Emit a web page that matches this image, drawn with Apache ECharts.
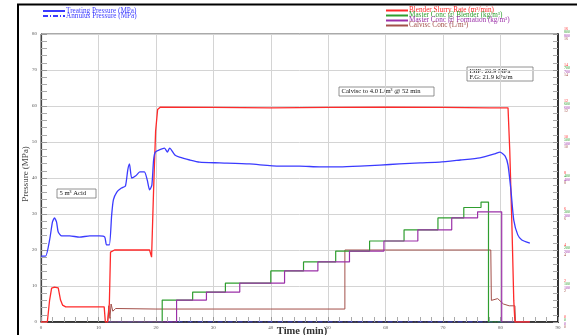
<!DOCTYPE html>
<html>
<head>
<meta charset="utf-8">
<script src="https://cdn.jsdelivr.net/npm/echarts@6/dist/echarts.min.js"></script>
<style>
  html, body { margin: 0; padding: 0; background: #fff; }
  #chart { width: 577px; height: 335px; }
</style>
</head>
<body>
<div id="chart"></div>
<script>
// Treating pressure (MPa) vs time (min)
const treatingT = [0, 0.8, 1.5, 2.0, 2.35, 2.7, 3.0, 3.6, 5, 6.7, 8.5, 10.2, 11.1, 11.4, 11.9, 12.3, 12.6, 13.2, 14.0, 14.7, 15.1, 15.4, 15.8, 16.5, 17.2, 18.0, 18.5, 18.9, 19.3, 19.6, 19.9, 20.6, 21.5, 22.0, 22.4, 23.3, 24.1, 25.9, 27.6, 31.1, 36.3, 41.5, 45, 48.5, 52, 55.5, 59, 62.4, 66, 69.4, 73, 76.4, 79, 79.9, 80.8, 81.3, 81.8, 82.3, 83.0, 83.7, 85.1];
const treatingP = [18.3, 18.3, 22.8, 27.8, 28.9, 27.8, 25.0, 23.9, 23.9, 23.6, 23.9, 23.9, 23.6, 21.4, 21.4, 29.7, 33.9, 36.1, 37.2, 37.8, 42.2, 43.9, 40.0, 40.6, 41.7, 41.7, 39.4, 36.7, 38.0, 45.0, 47.2, 47.8, 48.3, 47.2, 48.3, 46.4, 45.8, 45.0, 44.4, 44.2, 43.9, 43.3, 43.3, 43.1, 43.1, 43.3, 43.6, 43.9, 44.2, 44.4, 45.0, 45.6, 46.7, 47.2, 46.1, 43.6, 36.7, 28.3, 24.2, 22.8, 21.9];

// Annulus pressure (MPa)
const annulusT = [11.6, 85.1];
const annulusP = [0, 0];

// Blender slurry rate (m³/min)
const slurryT = [0, 1.1, 1.5, 1.85, 2.35, 3.0, 3.4, 3.75, 4.3, 11.0, 11.2, 11.6, 11.75, 11.9, 12.1, 12.8, 18.9, 19.25, 19.6, 19.95, 20.3, 20.8, 30, 40, 50, 60, 70, 78, 81.3, 81.6, 82.0, 82.3, 82.5, 85.1];
const slurryR = [0, 0, 1.22, 1.88, 1.94, 1.90, 1.22, 0.94, 0.84, 0.84, 0, 0, 0.44, 1.04, 3.88, 4.0, 4.0, 3.6, 7.34, 10.6, 11.8, 11.94, 11.92, 11.9, 11.92, 11.94, 11.92, 11.9, 11.9, 9.56, 5.1, 1.2, 0, 0];

// Master conc @ blender (kg/m³), stepped
const blenderT = [11.6, 21.1, 26.4, 32.1, 40.0, 45.7, 51.3, 57.2, 63.2, 69.1, 73.6, 76.6, 77.9, 85.1];
const blenderC = [0, 61, 83, 108, 142, 167, 197, 225, 256, 289, 318, 333, 0, 0];

// Master conc @ formation (kg/m³), stepped
const formationT = [11.6, 23.6, 28.8, 34.6, 42.4, 48.2, 53.7, 59.7, 65.6, 71.5, 76.0, 80.2, 85.1];
const formationC = [0, 61, 83, 108, 142, 167, 197, 225, 256, 289, 306, 0, 0];

// Calvisc conc (L/m³)
const calviscT = [11.6, 11.8, 12.0, 12.2, 12.5, 13.0, 20, 30, 40, 52.9, 52.9, 60, 70, 78.3, 78.4, 79.5, 80.5, 81.5, 82.5, 82.6];
const calviscC = [0, 0.9, 0.2, 1.0, 0.6, 0.75, 0.72, 0.72, 0.72, 0.72, 4.0, 4.0, 4.0, 4.0, 1.2, 1.3, 1.0, 0.9, 0.9, 0];

// Axis ranges and ticks
const timeMax = 90, timeStep = 10;
const pressureMax = 80, pressureStep = 10;
const rateMax = 16, rateStep = 2;
const concMax = 800, concStep = 100;
const calvMax = 16, calvStep = 2;

const C = {
  blue: '#3b3bff', red: '#ff2a2a', green: '#2f9e2f', purple: '#9b30a8', brown: '#a3504a'
};
const SERIF = '"Liberation Serif", "DejaVu Serif", serif';

const zip = (a, b) => a.map((v, i) => [v, b[i]]);

const chart = echarts.init(document.getElementById('chart'), null, { renderer: 'canvas' });

const tickLabel = { fontSize: 5, color: '#555', fontFamily: SERIF };

// One stacked label column on the right: rate / blender conc / formation conc / calvisc
function stackedLabel(v) {
  const k = v / rateMax;
  return '{r|' + v + '}\n{g|' + Math.round(k * concMax) + '}\n{p|' + Math.round(k * concMax) + '}\n{b|' + Math.round(k * calvMax) + '}';
}
const small = (c) => ({ fontSize: 4, lineHeight: 3.4, color: c, fontFamily: SERIF });

function rightAxis(max, step, main) {
  return {
    type: 'value', position: 'right', min: 0, max: max, interval: step,
    axisLine: { show: main, onZero: false, lineStyle: { color: '#333', width: 2 } },
    axisTick: { show: main, inside: true, length: 5, lineStyle: { color: '#999' } },
    minorTick: { show: main, splitNumber: 5, length: 5, lineStyle: { color: '#aaa' } },
    splitLine: { show: false },
    axisLabel: main ? {
      margin: 6, align: 'left', formatter: stackedLabel,
      rich: { r: small(C.red), g: small(C.green), p: small(C.purple), b: small(C.brown) }
    } : { show: false }
  };
}

function legendRow(name, color, left, top) {
  return {
    left: left, top: top, orient: 'horizontal', itemWidth: 22, itemHeight: 5, itemGap: 0,
    padding: 0, selectedMode: false, itemStyle: { opacity: 0 },
    data: [{ name: name, textStyle: { color: color } }],
    textStyle: { fontSize: 7.2, fontFamily: SERIF, color: color, padding: [0, 0, 0, -4] }
  };
}

function box(x, y, w, h, lines) {
  const children = [{
    type: 'rect', shape: { x: x, y: y, width: w, height: h },
    style: { fill: '#fff', stroke: '#777', lineWidth: 0.8 }
  }];
  lines.forEach((t, i) => children.push({
    type: 'text', x: x + 2.5, y: y + 1 + i * 6,
    style: { text: t, fontSize: 6.6, fontFamily: SERIF, fill: '#111', textVerticalAlign: 'top' }
  }));
  return { type: 'group', children: children, z: 10 };
}

chart.setOption({
  animation: false,
  backgroundColor: '#fff',
  grid: { left: 41, right: 19, top: 34, bottom: 13, show: true, borderColor: '#555', borderWidth: 1, containLabel: false },
  legend: [
    legendRow('Treating Pressure (MPa)', C.blue, 42, 7.5),
    legendRow('Annulus Pressure (MPa)', C.blue, 42, 12.5),
    legendRow('Blender Slurry Rate (m³/min)', C.red, 385, 7),
    legendRow('Master Conc @ Blender (kg/m³)', C.green, 385, 12),
    legendRow('Master Conc @ Formation (kg/m³)', C.purple, 385, 17),
    legendRow('Calvisc Conc (L/m³)', C.brown, 385, 22)
  ],
  xAxis: {
    type: 'value', min: 0, max: timeMax, interval: timeStep,
    axisLine: { onZero: false, lineStyle: { color: '#111', width: 1.5 } },
    axisTick: { inside: true, length: 5, lineStyle: { color: '#999' } },
    minorTick: { show: true, splitNumber: 5, length: 5, lineStyle: { color: '#aaa' } },
    splitLine: { show: true, lineStyle: { color: '#d4d4d4', width: 1 } },
    axisLabel: Object.assign({ margin: 3 }, tickLabel)
  },
  yAxis: [
    {
      type: 'value', position: 'left', min: 0, max: pressureMax, interval: pressureStep,
      axisLine: { show: true, onZero: false, lineStyle: { color: '#444', width: 1.2 } },
      axisTick: { show: true, inside: true, length: 6, lineStyle: { color: '#999' } },
      minorTick: { show: true, splitNumber: 5, length: 6, lineStyle: { color: '#aaa' } },
      splitLine: { show: true, lineStyle: { color: '#d4d4d4', width: 1 } },
      axisLabel: Object.assign({ margin: 4 }, tickLabel)
    },
    rightAxis(rateMax, rateStep, true),
    rightAxis(concMax, concStep, false),
    rightAxis(concMax, concStep, false),
    rightAxis(calvMax, calvStep, false)
  ],
  series: [
    {
      name: 'Annulus Pressure (MPa)', type: 'line', yAxisIndex: 0, data: zip(annulusT, annulusP),
      symbol: 'none', lineStyle: { color: C.blue, width: 1.2, type: [5, 2, 1, 2] }, itemStyle: { color: C.blue }
    },
    {
      name: 'Calvisc Conc (L/m³)', type: 'line', yAxisIndex: 4, data: zip(calviscT, calviscC),
      symbol: 'none', lineStyle: { color: C.brown, width: 1 }, itemStyle: { color: C.brown }
    },
    {
      name: 'Master Conc @ Blender (kg/m³)', type: 'line', yAxisIndex: 2, step: 'end', data: zip(blenderT, blenderC),
      symbol: 'none', lineStyle: { color: C.green, width: 1.2 }, itemStyle: { color: C.green }
    },
    {
      name: 'Master Conc @ Formation (kg/m³)', type: 'line', yAxisIndex: 3, step: 'end', data: zip(formationT, formationC),
      symbol: 'none', lineStyle: { color: C.purple, width: 1.2 }, itemStyle: { color: C.purple }
    },
    {
      name: 'Blender Slurry Rate (m³/min)', type: 'line', yAxisIndex: 1, data: zip(slurryT, slurryR),
      symbol: 'none', lineStyle: { color: C.red, width: 1.3 }, itemStyle: { color: C.red }
    },
    {
      name: 'Treating Pressure (MPa)', type: 'line', yAxisIndex: 0, data: zip(treatingT, treatingP),
      symbol: 'none', smooth: 0.2, lineStyle: { color: C.blue, width: 1.3 }, itemStyle: { color: C.blue }
    }
  ],
  graphic: [
    // outer frame
    { type: 'line', shape: { x1: 17, y1: 4.5, x2: 577, y2: 4.5 }, style: { stroke: '#000', lineWidth: 2 } },
    { type: 'line', shape: { x1: 18, y1: 4, x2: 18, y2: 335 }, style: { stroke: '#000', lineWidth: 2 } },
    // axis titles
    {
      type: 'text', x: 26, y: 174, rotation: Math.PI / 2,
      style: { text: 'Pressure (MPa)', fontSize: 9, fontFamily: SERIF, fill: '#444', textAlign: 'center', textVerticalAlign: 'middle' }
    },
    {
      type: 'text', x: 302, y: 331,
      style: { text: 'Time (min)', fontSize: 10.5, fontWeight: 'bold', fontFamily: SERIF, fill: '#333', textAlign: 'center', textVerticalAlign: 'middle' }
    },
    // annotations
    box(57, 189, 39, 9, ['5 m³ Acid']),
    box(339, 87, 95, 9, ['Calvisc to 4.0 L/m³ @ 52 min']),
    box(467, 67, 66, 14, ['ISIP: 26.9 MPa', 'F.G: 21.9 kPa/m'])
  ]
});
</script>
</body>
</html>
